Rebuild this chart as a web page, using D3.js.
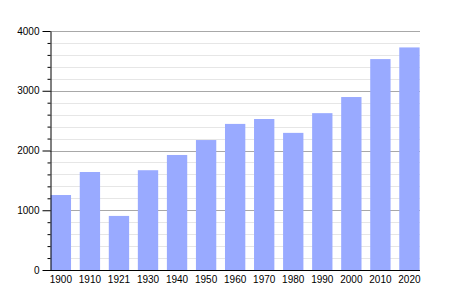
<!DOCTYPE html>
<html>
<head>
<meta charset="utf-8">
<script src="https://cdn.jsdelivr.net/npm/d3@7"></script>
<style>
  body { margin: 0; background: #fff; }
  text { font-family: "Liberation Sans", Arial, sans-serif; }
</style>
</head>
<body>
<div class="canvas"></div>
<script>
// data
const years = ['1900', '1910', '1921', '1930', '1940', '1950', '1960', '1970', '1980', '1990', '2000', '2010', '2020'];
const population = [1255, 1640, 905, 1670, 1925, 2175, 2445, 2527, 2295, 2625, 2895, 3530, 3725];
const yTicks = [0, 1000, 2000, 3000, 4000];

const svg = d3.select('.canvas')
  .append('svg')
  .attr('width', 450)
  .attr('height', 300);

const plotLeft = 50, plotRight = 420, plotTop = 31, plotBottom = 270;

const y = d3.scaleLinear()
  .domain([0, 4000])
  .range([plotBottom, plotTop]);

const x = d3.scaleBand()
  .domain(years)
  .range([50.7, 419.6])
  .paddingInner(0.3)
  .paddingOuter(0)
  .align(0);

// minor gridlines every 200
const minor = d3.range(200, 4001, 200).filter(v => v % 1000 !== 0);
svg.append('g').selectAll('line')
  .data(minor)
  .enter().append('line')
  .attr('x1', plotLeft).attr('x2', plotRight)
  .attr('y1', d => Math.round(y(d)) + 0.5)
  .attr('y2', d => Math.round(y(d)) + 0.5)
  .attr('stroke', '#e6e6e6');

// major gridlines
svg.append('g').selectAll('line')
  .data(yTicks.filter(v => v > 0))
  .enter().append('line')
  .attr('x1', plotLeft).attr('x2', plotRight)
  .attr('y1', d => Math.round(y(d)) + 0.5)
  .attr('y2', d => Math.round(y(d)) + 0.5)
  .attr('stroke', '#a8a8a8');

// bars
svg.append('g').selectAll('rect')
  .data(population)
  .enter().append('rect')
  .attr('x', (d, i) => x(years[i]))
  .attr('width', x.bandwidth())
  .attr('y', d => y(d))
  .attr('height', d => plotBottom - y(d))
  .attr('fill', '#99aaff');

// y axis with minor ticks
const yMinorAxis = d3.axisLeft(y)
  .tickValues(minor)
  .tickSize(3)
  .tickFormat('');
svg.append('g')
  .attr('transform', `translate(${plotLeft + 0.5},0)`)
  .call(yMinorAxis)
  .call(g => g.select('.domain').remove());

const yAxis = d3.axisLeft(y)
  .tickValues(yTicks)
  .tickSize(8)
  .tickSizeOuter(0)
  .tickPadding(3)
  .tickFormat(d3.format('d'));
svg.append('g')
  .attr('transform', `translate(${plotLeft + 0.5},0)`)
  .call(yAxis)
  .call(g => g.selectAll('text').attr('font-size', 10).attr('fill', '#000'));

// x axis
const xAxis = d3.axisBottom(x)
  .tickSize(0)
  .tickSizeOuter(0)
  .tickPadding(5);
svg.append('g')
  .attr('transform', `translate(0,${plotBottom + 0.5})`)
  .call(xAxis)
  .call(g => g.select('.domain').attr('d', `M${plotLeft},0H${plotRight}`))
  .call(g => g.selectAll('text').attr('font-size', 10).attr('fill', '#000'));
</script>
</body>
</html>
